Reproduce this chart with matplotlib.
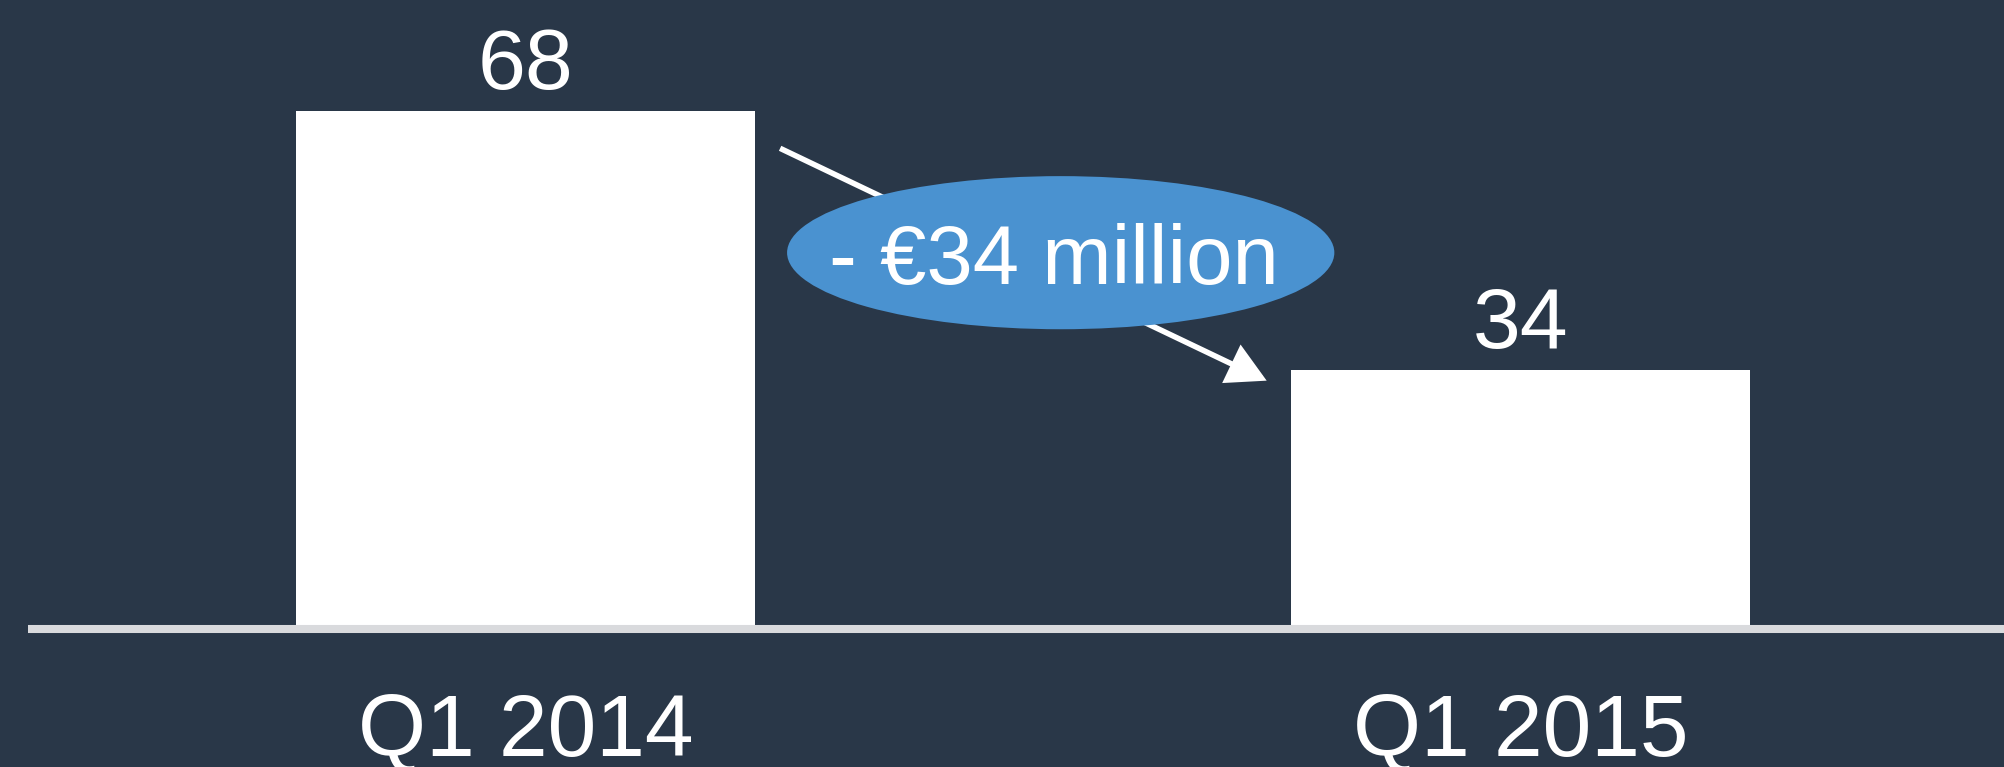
import matplotlib
matplotlib.use("Agg")
import matplotlib.pyplot as plt
from matplotlib.patches import Ellipse

# data
categories = ["Q1 2014", "Q1 2015"]
values = [68, 34]
change_label = "- €34 million"

BG = "#293748"
BLUE = "#4a92d0"

plt.rcParams['font.family'] = ['Liberation Sans', 'DejaVu Sans']

fig = plt.figure(figsize=(20.04, 7.67), dpi=100, facecolor=BG)
# axes: baseline sits 138 px above the bottom edge
ax = fig.add_axes([0, 138 / 767, 1, 629 / 767])
ax.set_facecolor(BG)

x = list(range(len(categories)))
bars = ax.bar(x, values, width=0.462, color="white", linewidth=0, zorder=2)
ax.bar_label(bars, labels=[str(v) for v in values], padding=3,
             color="white", fontsize=62)

ax.set_xlim(-0.528, 1.486)
ax.set_ylim(0, 82.57)

# baseline
ax.axhline(0, xmin=28 / 2004, xmax=1, color="#d9dadd", lw=5.8, zorder=3,
           clip_on=False, solid_capstyle="butt")

ax.set_xticks(x, categories)
ax.tick_params(axis="x", length=0, pad=46, labelsize=63, labelcolor="white")
ax.set_yticks([])
for s in ax.spines.values():
    s.set_visible(False)

# arrow from first bar to second bar
ax.annotate("", xy=(0.745, values[1] - 1.4), xytext=(0.256, 63.1),
            arrowprops=dict(arrowstyle="-|>,head_length=1.1,head_width=0.6",
                            color="white", lw=4, mutation_scale=20,
                            shrinkA=0, shrinkB=0, joinstyle="miter",
                            capstyle="butt"),
            zorder=4)

# change bubble
ell = Ellipse((0.538, 49.4), width=0.55, height=20.1, facecolor=BLUE,
              edgecolor="none", zorder=5)
ax.add_patch(ell)
ax.text(0.531, 48.2, change_label, ha="center", va="center", color="white",
        fontsize=60, zorder=6)

fig.savefig("out.png", dpi=100, facecolor=BG)
